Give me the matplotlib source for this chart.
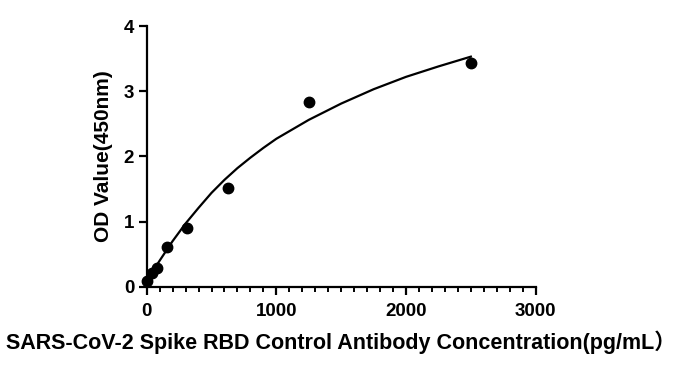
import matplotlib
matplotlib.use("Agg")
import matplotlib.pyplot as plt
from matplotlib.ticker import MultipleLocator

# standard points (pg/mL, OD450)
conc = [0, 39, 78, 156, 312.5, 625, 1250, 2500]
od = [0.08, 0.21, 0.28, 0.61, 0.90, 1.51, 2.84, 3.43]

# fitted curve
curve_x = [0, 100, 200, 300, 400, 500, 600, 700, 800, 900, 1000,
           1250, 1500, 1750, 2000, 2250, 2500]
curve_y = [0.09, 0.40, 0.70, 0.97, 1.21, 1.44, 1.64, 1.82, 1.98, 2.13, 2.27,
           2.56, 2.81, 3.03, 3.22, 3.38, 3.53]

xticks = [0, 1000, 2000, 3000]
yticks = [0, 1, 2, 3, 4]

fonts = ['Liberation Sans', 'Noto Sans CJK SC', 'DejaVu Sans']
plt.rcParams['font.family'] = fonts
plt.rcParams['font.weight'] = 'bold'

fig = plt.figure(figsize=(6.75, 3.68), dpi=100)
ax = fig.add_axes([0.2173, 0.2209, 0.5763, 0.7084])

ax.plot(curve_x, curve_y, color='black', lw=1.6, solid_joinstyle='round')
ax.plot(conc, od, 'o', color='black', ms=7.5, clip_on=False)

ax.set_xlim(0, 3000)
ax.set_ylim(0, 4)
ax.set_xticks(xticks)
ax.set_yticks(yticks)
ax.xaxis.set_minor_locator(MultipleLocator(100))

for s in ['top', 'right']:
    ax.spines[s].set_visible(False)
for s in ['left', 'bottom']:
    ax.spines[s].set_linewidth(1.6)

ax.tick_params(which='major', length=6, width=1.6, labelsize=13.5)
ax.tick_params(axis='x', which='major', pad=6)
ax.tick_params(axis='y', which='major', pad=3)
ax.tick_params(which='minor', length=3.5, width=1.4)

ax.set_ylabel('OD Value(450nm)', fontsize=15, fontweight='bold', labelpad=8)
ax.set_xlabel('SARS-CoV-2 Spike RBD Control Antibody Concentration(pg/mL）',
              fontsize=15.5, fontweight='bold', labelpad=7)

fig.savefig('out.png', dpi=100)
